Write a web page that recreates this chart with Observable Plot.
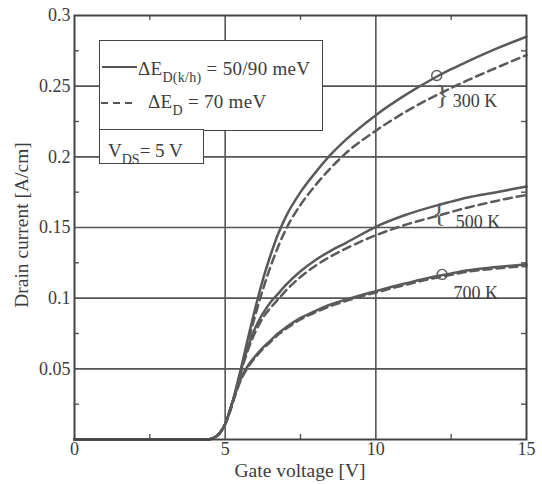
<!DOCTYPE html>
<html><head><meta charset="utf-8">
<script src="https://cdn.jsdelivr.net/npm/d3@7"></script>
<script src="https://cdn.jsdelivr.net/npm/@observablehq/plot@0.6"></script>
<style>
body{margin:0;background:#fff;}
#wrap{position:relative;width:542px;height:484px;font-family:"Liberation Serif",serif;color:#3c3c3c;}
#wrap svg{position:absolute;left:0;top:0;}
.ov{position:absolute;white-space:nowrap;line-height:1;}
.box{position:absolute;box-sizing:border-box;border:1.6px solid #444;background:#fff;}
sub{font-size:14px;vertical-align:-7px;line-height:0;}
</style></head><body><div id="wrap"></div>
<script>
// Gate voltage [V]
const gateV = [0, 4.4, 4.6, 4.8, 5, 5.25, 5.5, 5.75, 6, 6.25, 6.5, 6.75, 7, 7.5, 8, 8.5, 9, 10, 11, 12, 12.5, 13, 14, 15];
// Drain current [A/cm], solid = ΔE_D(k/h) = 50/90 meV, dashed = ΔE_D = 70 meV
const i300Solid  = [0,0,0.001,0.004,0.011,0.027,0.048,0.071,0.093,0.113,0.130,0.145,0.157,0.175,0.189,0.2015,0.212,0.2295,0.244,0.2565,0.262,0.267,0.2765,0.285];
const i300Dashed = [0,0,0.001,0.004,0.011,0.026,0.046,0.068,0.088,0.106,0.122,0.136,0.148,0.166,0.180,0.192,0.2025,0.2185,0.232,0.2435,0.2487,0.2537,0.263,0.272];
const i500Solid  = [0,0,0.001,0.004,0.011,0.027,0.047,0.065,0.079,0.089,0.097,0.103,0.109,0.119,0.127,0.1335,0.139,0.1505,0.159,0.1655,0.1683,0.171,0.175,0.179];
const i500Dashed = [0,0,0.001,0.004,0.011,0.026,0.046,0.063,0.076,0.086,0.093,0.099,0.105,0.115,0.123,0.1295,0.135,0.1445,0.152,0.158,0.161,0.1638,0.1688,0.173];
const i700Solid  = [0,0,0.001,0.004,0.011,0.027,0.042,0.052,0.059,0.065,0.070,0.075,0.079,0.086,0.091,0.0955,0.099,0.105,0.1105,0.1155,0.1175,0.1195,0.122,0.124];
const i700Dashed = [0,0,0.001,0.004,0.011,0.026,0.041,0.051,0.058,0.064,0.069,0.074,0.078,0.085,0.090,0.0945,0.098,0.104,0.1095,0.1145,0.1165,0.1185,0.121,0.1228];

const xTicks = [0, 5, 10, 15];
const yTicks = [0.05, 0.1, 0.15, 0.2, 0.25, 0.3];
const xGrid = [5, 10];
const yGrid = [0.05, 0.1, 0.15, 0.2, 0.25];
const xMinor = [2.5, 7.5, 12.5];
const yMinor = [0.025, 0.075, 0.125, 0.175, 0.225, 0.275];

const tempLabels = ["300 K", "500 K", "700 K"];
const tempLabelX = [12.55, 12.65, 12.58];
const tempLabelY = [0.2395, 0.154, 0.1035];
// hand-drawn brackets grouping the solid/dashed pairs
const braceX = [12.2, 12.1];
const braceY = [0.244, 0.1605];
const braceText = ["}", "{"];
const ringX = [12.02, 12.2];
const ringY = [0.2575, 0.1168];

const series = [
  {T: "300", kind: "solid", vals: i300Solid},
  {T: "300", kind: "dashed", vals: i300Dashed},
  {T: "500", kind: "solid", vals: i500Solid},
  {T: "500", kind: "dashed", vals: i500Dashed},
  {T: "700", kind: "solid", vals: i700Solid},
  {T: "700", kind: "dashed", vals: i700Dashed}
];
const rows = series.flatMap(s => s.vals.map((v, i) => ({V: gateV[i], I: v, key: s.T + s.kind, kind: s.kind})));
const labels = tempLabels.map((t, i) => ({t, x: tempLabelX[i], y: tempLabelY[i]}));
const braces = braceText.map((t, i) => ({t, x: braceX[i], y: braceY[i]}));
const rings = ringX.map((x, i) => ({x, y: ringY[i]}));

const ink = "#555";
const curveInk = "#5a5a5a";
const plot = Plot.plot({
  width: 542, height: 484,
  marginLeft: 74, marginRight: 16, marginTop: 15, marginBottom: 45,
  x: {domain: [0, 15]},
  y: {domain: [0, 0.3]},
  style: {fontFamily: "Liberation Serif, serif", fontSize: "18px", color: "#3c3c3c", background: "transparent"},
  marks: [
    Plot.ruleX(xGrid, {stroke: ink, strokeWidth: 1.6}),
    Plot.ruleY(yGrid, {stroke: ink, strokeWidth: 1.6}),
    // inward minor ticks on all four sides
    Plot.ruleX(xMinor, {y1: 0, y2: 0, insetTop: -5, stroke: ink, strokeWidth: 1.4}),
    Plot.ruleX(xMinor, {y1: 0.3, y2: 0.3, insetBottom: -5, stroke: ink, strokeWidth: 1.4}),
    Plot.ruleY(yMinor, {x1: 0, x2: 0, insetRight: -5, stroke: ink, strokeWidth: 1.4}),
    Plot.ruleY(yMinor, {x1: 15, x2: 15, insetLeft: -5, stroke: ink, strokeWidth: 1.4}),
    Plot.axisX({ticks: xTicks, tickSize: 0, tickPadding: 3, tickFormat: d => String(d), label: null, fontSize: 18}),
    Plot.axisY({ticks: yTicks, tickSize: 0, tickPadding: 4, tickFormat: d => String(d), label: null, fontSize: 18}),
    Plot.line(rows.filter(d => d.kind === "solid"), {x: "V", y: "I", z: "key", stroke: curveInk, strokeWidth: 2.5, curve: "monotone-x"}),
    Plot.line(rows.filter(d => d.kind === "dashed"), {x: "V", y: "I", z: "key", stroke: curveInk, strokeWidth: 2.5, strokeDasharray: "8,5", curve: "monotone-x"}),
    Plot.text(labels, {x: "x", y: "y", text: "t", textAnchor: "start", fontSize: 18, fill: "#3c3c3c"}),
    Plot.text(braces, {x: "x", y: "y", text: "t", fontSize: 28, fill: curveInk}),
    Plot.dot(rings, {x: "x", y: "y", r: 5, stroke: curveInk, strokeWidth: 1.4, fill: "none"}),
    Plot.frame({stroke: "#444", strokeWidth: 2})
  ]
});
const wrap = document.getElementById("wrap");
wrap.appendChild(plot);

wrap.insertAdjacentHTML("beforeend", `
<div class="box" style="left:99px;top:40px;width:224px;height:91px;"></div>
<div class="box" style="left:99px;top:129px;width:105px;height:35px;"></div>
<svg style="position:absolute;left:0;top:0;pointer-events:none" width="542" height="484">
  <line x1="102" x2="137" y1="67" y2="67" stroke="#555" stroke-width="1.8"/>
  <line x1="101" x2="137" y1="103" y2="103" stroke="#555" stroke-width="1.8" stroke-dasharray="7,5"/>
</svg>
<div class="ov" style="left:138px;top:59px;font-size:19px;letter-spacing:0.3px;">ΔE<sub>D(k/h)</sub> = 50/90 meV</div>
<div class="ov" style="left:148px;top:92px;font-size:19px;letter-spacing:0.3px;">ΔE<sub>D</sub> = 70 meV</div>
<div class="ov" style="left:108px;top:141px;font-size:19px;">V<sub>DS</sub>= 5 V</div>
<div class="ov" style="left:0;width:600px;top:461px;font-size:19.5px;text-align:center;">Gate voltage [V]</div>
<div class="ov" style="left:22px;top:225px;font-size:19.5px;transform:translate(-50%,-50%) rotate(-90deg);">Drain current [A/cm]</div>
`);
</script>
</body></html>
